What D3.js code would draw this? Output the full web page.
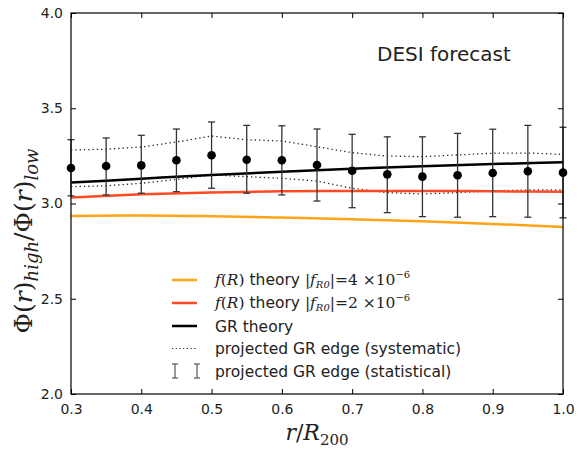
<!DOCTYPE html>
<html><head><meta charset="utf-8">
<script src="https://cdn.jsdelivr.net/npm/d3@7"></script>
<style>body{margin:0;background:#fff}svg{display:block}</style>
</head><body>
<script>
// Data
const theoryR = [0.3,0.4,0.5,0.6,0.7,0.8,0.9,1.0];
const fR4 = [2.935,2.937,2.933,2.926,2.917,2.907,2.893,2.876];
const fR2 = [3.032,3.048,3.058,3.064,3.066,3.066,3.064,3.062];
const grTheory = [3.110,3.130,3.150,3.167,3.182,3.196,3.207,3.217];

const pointR = [0.30,0.35,0.40,0.45,0.50,0.55,0.60,0.65,0.70,0.75,0.80,0.85,0.90,0.95,1.00];
const pointVal = [3.186,3.197,3.200,3.227,3.253,3.230,3.227,3.202,3.172,3.153,3.141,3.148,3.160,3.169,3.162];
const errHigh = [3.335,3.344,3.358,3.391,3.428,3.410,3.408,3.391,3.363,3.350,3.350,3.368,3.390,3.410,3.400];
const errLow  = [3.040,3.045,3.054,3.062,3.080,3.054,3.045,3.013,2.978,2.952,2.931,2.928,2.931,2.928,2.925];
const sysUpper = [3.281,3.285,3.296,3.323,3.354,3.335,3.328,3.298,3.267,3.249,3.246,3.255,3.264,3.265,3.258];
const sysLower = [3.088,3.093,3.106,3.127,3.150,3.141,3.132,3.118,3.080,3.057,3.050,3.057,3.067,3.071,3.071];

const xTicks = [0.3,0.4,0.5,0.6,0.7,0.8,0.9,1.0];
const yTicks = [2.0,2.5,3.0,3.5,4.0];

const W=578,H=449;
const m={l:71,t:13,r:563,b:394};
const svg=d3.select("body").append("svg").attr("width",W).attr("height",H);
const x=d3.scaleLinear().domain([0.3,1.0]).range([m.l,m.r]);
const y=d3.scaleLinear().domain([2.0,4.0]).range([m.b,m.t]);
const font="'DejaVu Sans', sans-serif";
const serif="'DejaVu Serif', 'Liberation Serif', serif";

const plot=svg.append("g");
const line=(xs,ys)=>d3.line().x((d,i)=>x(xs[i])).y(d=>y(d))(ys);

// systematic dotted
[sysUpper,sysLower].forEach(s=>{
  plot.append("path").attr("d",line(pointR,s)).attr("fill","none")
    .attr("stroke","#222").attr("stroke-width",1.3).attr("stroke-dasharray","1.3,3");
});
// theory lines
plot.append("path").attr("d",d3.line().curve(d3.curveMonotoneX).x((d,i)=>x(theoryR[i])).y(d=>y(d))(fR4))
  .attr("fill","none").attr("stroke","#ffa319").attr("stroke-width",2.5);
plot.append("path").attr("d",d3.line().curve(d3.curveMonotoneX).x((d,i)=>x(theoryR[i])).y(d=>y(d))(fR2))
  .attr("fill","none").attr("stroke","#ff4a24").attr("stroke-width",2.5);
plot.append("path").attr("d",d3.line().curve(d3.curveMonotoneX).x((d,i)=>x(theoryR[i])).y(d=>y(d))(grTheory))
  .attr("fill","none").attr("stroke","#000").attr("stroke-width",2.5);

// error bars
const eb=plot.append("g").attr("stroke","#333").attr("stroke-width",1.3);
pointR.forEach((r,i)=>{
  const cx=x(r);
  eb.append("line").attr("x1",cx).attr("x2",cx).attr("y1",y(errHigh[i])).attr("y2",y(errLow[i]));
  eb.append("line").attr("x1",cx-3.5).attr("x2",cx+3.5).attr("y1",y(errHigh[i])).attr("y2",y(errHigh[i]));
  eb.append("line").attr("x1",cx-3.5).attr("x2",cx+3.5).attr("y1",y(errLow[i])).attr("y2",y(errLow[i]));
});
plot.selectAll("circle.pt").data(pointVal).enter().append("circle")
  .attr("cx",(d,i)=>x(pointR[i])).attr("cy",d=>y(d)).attr("r",4.3).attr("fill","#000");

// frame
svg.append("rect").attr("x",m.l).attr("y",m.t).attr("width",m.r-m.l).attr("height",m.b-m.t)
  .attr("fill","none").attr("stroke","#000").attr("stroke-width",1.2);

// axes
svg.append("g").attr("transform",`translate(0,${m.b})`)
  .call(d3.axisBottom(x).tickValues(xTicks).tickFormat(d3.format(".1f")).tickSizeInner(-5).tickSizeOuter(0).tickPadding(10));
svg.append("g").attr("transform",`translate(${m.l},0)`)
  .call(d3.axisLeft(y).tickValues(yTicks).tickFormat(d3.format(".1f")).tickSizeInner(-5).tickSizeOuter(0).tickPadding(8));
svg.append("g").attr("transform",`translate(0,${m.t})`)
  .call(d3.axisTop(x).tickValues(xTicks).tickFormat("").tickSizeInner(-5).tickSizeOuter(0));
svg.append("g").attr("transform",`translate(${m.r},0)`)
  .call(d3.axisRight(y).tickValues(yTicks).tickFormat("").tickSizeInner(-5).tickSizeOuter(0));
svg.selectAll(".domain").remove();
svg.selectAll(".tick line").attr("stroke","#000").attr("stroke-width",1);
svg.selectAll(".tick text").attr("font-family",font).attr("font-size",14).attr("fill","#222");

// DESI text
svg.append("text").attr("x",377).attr("y",61).attr("font-family",font).attr("font-size",20)
  .attr("fill","#222").text("DESI forecast");

// axis labels
const xl=svg.append("text").attr("x",(m.l+m.r)/2).attr("y",440).attr("text-anchor","middle")
  .attr("font-family",serif).attr("font-size",22).attr("fill","#222");
xl.append("tspan").attr("font-style","italic").text("r");
xl.append("tspan").text("/");
xl.append("tspan").attr("font-style","italic").text("R");
xl.append("tspan").attr("font-size",15).attr("dy",5).text("200");

const yl=svg.append("text").attr("transform","translate(32,241) rotate(-90)").attr("text-anchor","middle")
  .attr("font-family",serif).attr("font-size",25).attr("fill","#222");
yl.append("tspan").text("Φ(");
yl.append("tspan").attr("font-style","italic").text("r");
yl.append("tspan").text(")");
yl.append("tspan").attr("font-style","italic").attr("font-size",18).attr("dy",6).text("high");
yl.append("tspan").attr("dy",-6).text("/Φ(");
yl.append("tspan").attr("font-style","italic").text("r");
yl.append("tspan").text(")");
yl.append("tspan").attr("font-style","italic").attr("font-size",18).attr("dy",6).text("low");

// legend
const legRows=[280,303,326,348.5,371];
const lg=svg.append("g");
const lx1=172,lx2=197,tx=215;
[["#ffa319",0],["#ff4a24",1],["#000",2]].forEach(([c,i])=>{
  lg.append("line").attr("x1",lx1).attr("x2",lx2).attr("y1",legRows[i]).attr("y2",legRows[i])
    .attr("stroke",c).attr("stroke-width",2.5);
});
lg.append("line").attr("x1",lx1).attr("x2",lx2).attr("y1",legRows[3]).attr("y2",legRows[3])
  .attr("stroke","#222").attr("stroke-width",1.2).attr("stroke-dasharray","1.2,2.5");
[175,197].forEach(cx=>{
  const yy=legRows[4];
  const g=lg.append("g").attr("stroke","#555").attr("stroke-width",1.2);
  g.append("line").attr("x1",cx).attr("x2",cx).attr("y1",yy-7).attr("y2",yy+7);
  g.append("line").attr("x1",cx-3).attr("x2",cx+3).attr("y1",yy-7).attr("y2",yy-7);
  g.append("line").attr("x1",cx-3).attr("x2",cx+3).attr("y1",yy+7).attr("y2",yy+7);
});
function frLabel(yy,num){
  const t=lg.append("text").attr("x",tx).attr("y",yy+5).attr("font-family",font).attr("font-size",15.5).attr("fill","#222");
  t.append("tspan").attr("font-family",serif).attr("font-style","italic").text("f");
  t.append("tspan").attr("font-family",serif).text("(");
  t.append("tspan").attr("font-family",serif).attr("font-style","italic").text("R");
  t.append("tspan").attr("font-family",serif).text(")");
  t.append("tspan").text(" theory ");
  t.append("tspan").attr("font-family",serif).text("|");
  t.append("tspan").attr("font-family",serif).attr("font-style","italic").text("f");
  t.append("tspan").attr("font-family",serif).attr("font-style","italic").attr("font-size",10).attr("dy",3).text("R0");
  t.append("tspan").attr("font-family",serif).attr("dy",-3).text("|=" + num + " ×10");
  t.append("tspan").attr("font-family",serif).attr("font-size",10).attr("dy",-7).text("−6");
}
frLabel(legRows[0],"4");
frLabel(legRows[1],"2");
["GR theory","projected GR edge (systematic)","projected GR edge (statistical)"].forEach((s,i)=>{
  lg.append("text").attr("x",tx).attr("y",legRows[i+2]+5.5).attr("font-family",font).attr("font-size",15.5)
    .attr("fill","#222").text(s);
});
</script>
</body></html>
